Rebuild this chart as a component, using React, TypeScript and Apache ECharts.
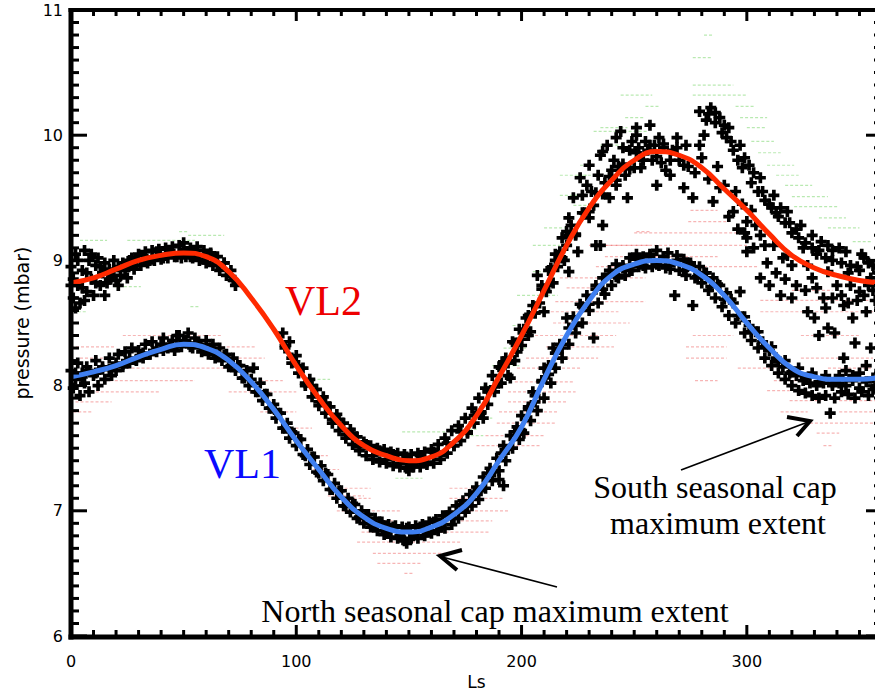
import React, { useEffect, useRef } from "react";
import * as echarts from "echarts";

// Fitted curves (Ls every 10 degrees)
const LS_CURVE = [0,10,20,30,40,50,60,70,80,90,100,110,120,130,140,150,160,170,180,190,200,210,220,230,240,250,260,270,280,290,300,310,320,330,340,350,360];
const VL2_FIT = [8.82,8.86,8.93,9.00,9.04,9.06,9.03,8.91,8.70,8.45,8.16,7.90,7.68,7.52,7.44,7.40,7.43,7.55,7.76,8.07,8.40,8.76,9.12,9.42,9.64,9.80,9.87,9.84,9.74,9.57,9.40,9.21,9.04,8.94,8.88,8.84,8.82];
const VL1_FIT = [8.07,8.11,8.16,8.23,8.29,8.33,8.30,8.20,8.03,7.81,7.56,7.33,7.11,6.95,6.86,6.83,6.87,6.97,7.14,7.40,7.67,8.05,8.40,8.68,8.88,8.97,9.00,8.97,8.88,8.72,8.50,8.30,8.14,8.07,8.05,8.05,8.07];

// Measured daily pressures [Ls, mbar] — Viking Lander 1
const VL1_DATA = [
[0,8.12],[1,7.98],[2,8.05],[3,8.18],[4,7.92],[5,8.10],[6,8.02],[7,8.15],[8,7.95],[10,8.08],[11,8.20],[12,8.00],[14,8.13],[15,8.05],[17,8.22],[18,8.08],[20,8.12],[21,8.25],[23,8.15],[24,8.27],[26,8.18],[27,8.30],[29,8.20],[30,8.28],[32,8.22],[33,8.33],[35,8.25],[36,8.35],[38,8.27],[40,8.33],[41,8.38],[43,8.30],[45,8.36],[46,8.28],[47,8.40],[48,8.40],[49,8.31],[51,8.36],[52,8.42],[54,8.30],[55,8.38],[57,8.33],[58,8.27],[60,8.36],[61,8.25],[63,8.33],[64,8.22],[66,8.30],[67,8.20],
[69,8.25],[70,8.15],[72,8.22],[73,8.12],[75,8.16],[76,8.06],[78,8.12],[79,8.00],[81,8.14],[82,7.95],[84,8.02],[85,7.88],[87,7.93],[88,7.82],[90,7.85],[91,7.74],[93,7.78],[94,7.66],[96,7.70],[97,7.58],[99,7.62],[100,7.52],
[102,7.57],[103,7.45],[105,7.49],[106,7.37],[108,7.43],[109,7.31],[111,7.36],[112,7.24],[114,7.29],[115,7.17],[117,7.22],[118,7.10],[120,7.16],[121,7.04],[123,7.10],[124,6.99],[126,7.05],[127,6.94],[129,7.00],[130,6.90],[132,6.97],[133,6.87],[135,6.94],[136,6.84],[138,6.91],[139,6.81],[141,6.89],[142,6.79],[144,6.88],[145,6.78],[147,6.87],[148,6.76],[149,6.74],[150,6.87],[151,6.78],[153,6.88],[154,6.78],[156,6.89],[157,6.80],[159,6.91],[160,6.82],[162,6.93],[163,6.84],[165,6.96],[166,6.86],[168,6.99],[169,6.89],[171,7.04],[172,6.94],[174,7.08],[175,6.99],[177,7.13],[178,7.04],[180,7.19],[181,7.09],[183,7.27],[184,7.18],[186,7.34],[187,7.24],[189,7.42],[190,7.25],[190,7.32],[192,7.52],[192,7.20],[193,7.40],[195,7.60],[196,7.50],[198,7.67],[199,7.57],
[200,7.76],[201,7.62],[203,7.83],[204,7.72],[205,7.95],[206,7.92],[207,7.80],[209,8.03],[210,7.90],[210,8.14],[212,8.16],[213,8.02],[214,8.30],[215,8.14],[217,8.33],[218,8.22],[220,8.54],[221,8.33],[223,8.55],[224,8.42],[226,8.65],[227,8.50],[229,8.72],[230,8.60],[232,8.38],[233,8.80],[234,8.66],[236,8.86],[237,8.73],[239,8.92],[240,8.80],[242,8.97],[243,8.86],[245,8.94],[246,8.88],[248,9.02],[249,8.92],[251,9.05],[252,8.95],[254,9.03],[255,8.94],[257,9.05],[258,8.95],[260,9.08],[261,8.96],[263,9.03],[264,8.94],
[265,9.06],[266,8.93],[268,8.72],[269,9.04],[270,8.92],[272,9.01],[273,8.88],[275,8.98],[276,8.64],[277,8.86],[279,8.95],[280,8.82],[282,8.90],[283,8.76],[285,8.86],[286,8.70],[288,8.80],[289,8.63],[291,8.74],[292,8.56],[294,8.66],[295,8.50],[297,8.75],[298,8.55],[299,8.42],[301,8.48],[302,8.36],[304,8.43],[305,8.30],[307,8.35],[308,8.22],[310,8.28],[311,8.16],[313,8.22],[314,8.10],[316,8.15],[317,8.05],[319,8.10],[320,8.00],[322,8.08],[323,7.96],[325,8.04],[326,7.94],[328,8.02],[329,7.92],[331,8.00],[332,7.90],[334,8.02],[335,7.92],[337,7.78],[338,8.00],[339,7.90],[341,8.08],[342,7.95],[344,8.12],[345,7.93],[347,8.04],[348,7.90],[350,8.10],[351,7.95],[353,8.16],[354,7.92],[356,8.06],[357,7.98],[359,8.12],[360,8.02]
];
const VL1_DATA_B = [
[2,8.10],[5,8.07],[8,8.12],[11,8.10],[14,8.15],[17,8.13],[20,8.18],[23,8.17],[26,8.22],[29,8.21],[32,8.26],[35,8.25],[38,8.30],[41,8.28],[44,8.33],[47,8.31],[50,8.35],[53,8.31],[56,8.34],[59,8.28],[62,8.30],[65,8.24],[68,8.24],[71,8.16],[74,8.16],[77,8.06],[80,8.05],[83,7.95],[86,7.93],[89,7.82],[92,7.78],[95,7.66],[98,7.63],
[101,7.57],[104,7.44],[107,7.43],[110,7.30],[113,7.30],[116,7.17],[119,7.16],[122,7.04],[125,7.06],[128,6.95],[131,6.97],[134,6.88],[137,6.91],[140,6.83],[143,6.87],[146,6.80],[149,6.86],[152,6.80],[155,6.87],[158,6.83],[161,6.91],[164,6.87],[167,6.96],[170,6.94],[173,7.05],[176,7.04],[179,7.15],[182,7.16],[185,7.30],[188,7.31],[191,7.46],[194,7.49],[197,7.63],[200,7.64],
[203,7.81],[206,7.87],[209,8.04],[212,8.09],[215,8.26],[218,8.30],[221,8.46],[224,8.48],[227,8.63],[230,8.65],[233,8.77],[236,8.77],[239,8.89],[242,8.87],[245,8.96],[248,8.92],[251,9.01],[254,8.96],[257,9.03],[260,8.97],[263,9.03],[266,8.96],[269,9.00],[272,8.92],[275,8.96],[278,8.87],[281,8.90],[284,8.79],[287,8.81],[290,8.69],[293,8.69],[296,8.56],[299,8.55],[302,8.43],[305,8.43],[308,8.31],[311,8.31],[314,8.19],[317,8.20],[320,8.11],[323,8.14],[326,8.06],[329,8.10],[332,8.03],[335,8.08],[338,8.02],[341,8.02],[344,8.00],[347,8.08],[350,7.98],[353,8.03],[356,7.97],[359,8.04]
];

// Viking Lander 2
const VL2_DATA = [
[0,8.95],[1,8.70],[2,9.05],[3,8.80],[4,8.66],[5,8.92],[6,9.08],[7,8.75],[8,9.00],[9,8.85],[10,8.72],[11,8.96],[12,9.02],[13,8.80],[14,8.90],[15,8.98],[16,8.82],[17,8.93],[18,8.87],[19,9.00],[20,8.84],[21,8.95],[22,8.88],[24,8.92],[25,8.86],
[27,9.02],[28,8.93],[30,9.05],[31,8.96],[33,9.07],[34,8.98],[36,9.08],[37,9.00],[39,9.09],[40,9.01],[42,9.10],[43,9.02],[45,9.11],[46,9.03],[48,9.12],[49,9.02],[50,9.14],[51,9.03],[53,9.10],[54,9.02],[56,9.11],[57,9.00],[59,9.08],[60,8.98],[62,9.06],[63,8.96],[65,9.03],[66,8.92],[68,8.98],[69,8.88],[71,8.92],[72,8.84],[73,8.80],
[94,8.42],[95,8.30],[97,8.35],[98,8.22],[100,8.24],[101,8.10],[103,8.14],[104,8.00],[106,8.05],[107,7.91],[109,7.97],[110,7.84],[112,7.91],[113,7.78],[115,7.83],[116,7.70],[118,7.77],[119,7.64],[121,7.70],[122,7.58],[124,7.65],[125,7.53],[127,7.59],[128,7.48],[130,7.55],[131,7.44],[133,7.52],[134,7.41],[136,7.50],[137,7.39],[139,7.49],[140,7.38],[142,7.47],[143,7.36],[145,7.46],[146,7.35],[148,7.45],[149,7.34],[150,7.32],[151,7.45],[152,7.35],[154,7.46],[155,7.35],[157,7.47],[158,7.37],[160,7.49],[161,7.38],[163,7.53],[164,7.41],[166,7.58],[167,7.46],[169,7.64],[170,7.52],[172,7.68],[173,7.56],[175,7.74],[176,7.62],[178,7.82],[179,7.70],[181,7.90],[182,7.78],[183,7.74],[184,7.98],[185,7.85],[187,8.08],[188,7.95],[190,8.15],[191,8.02],[192,8.19],[193,8.22],[194,8.08],[195,8.06],[196,8.35],[197,8.20],[198,8.27],[199,8.45],[200,8.32],
[201,8.45],[202,8.54],[203,8.40],[204,8.43],[205,8.64],[206,8.58],[207,8.88],[208,8.66],[209,8.80],[210,8.59],[211,8.75],[212,8.92],[213,8.94],[214,8.82],[215,9.05],[216,8.95],[217,9.07],[218,9.18],[219,9.00],[220,9.23],[220,9.12],[221,9.34],[221,8.91],[222,9.28],[223,9.50],[224,9.20],[225,9.07],[226,9.66],[227,9.52],[228,9.38],[229,9.60],[230,9.76],[230,9.34],[231,9.55],[232,9.44],[233,9.12],[234,9.68],[235,9.84],[235,9.12],[236,9.28],[236,9.87],[237,9.62],[238,9.92],[239,9.50],[240,9.72],[241,9.80],[242,9.98],[242,9.60],[243,9.75],[244,10.03],[245,9.90],[246,9.68],[247,9.50],[248,9.88],[249,9.95],[250,9.74],[251,10.06],[251,10.00],[252,9.90],[253,9.74],[254,9.80],[255,9.95],[256,9.88],[257,10.08],[258,9.80],[259,9.92],[260,9.60],[261,9.98],[262,9.78],[263,9.90],[264,9.72],[266,9.68],[267,9.88],[269,9.98],[270,9.80],[272,9.58],[273,9.92],[274,9.75],[276,9.50],[277,9.70],[279,10.19],[279,9.92],[280,9.82],[281,10.00],[282,10.12],[283,9.65],[284,10.22],[285,9.47],[286,10.10],[287,9.75],[288,10.14],[288,9.58],[290,10.08],[290,9.60],[292,10.06],[293,9.95],[294,9.39],[295,9.55],[297,9.92],[298,9.45],[299,9.82],[300,9.31],[300,9.18],[300,9.07],[301,9.76],[302,9.40],[303,9.70],[304,9.28],[306,9.66],[306,9.20],[306,8.86],[307,9.55],[308,9.12],[310,8.80],[310,9.45],[312,9.52],[312,9.12],[313,9.38],[315,8.72],[315,9.42],[316,9.02],[318,9.39],[318,9.04],[319,9.30],[320,8.96],[320,8.70],[322,9.25],[324,9.28],[325,9.10],[327,8.96],[327,8.59],[329,9.20],[329,8.86],[330,8.54],[331,9.05],[332,8.40],[333,9.15],[334,8.70],[336,9.12],[336,8.91],[336,8.46],[338,9.00],[339,8.42],[340,8.80],[341,9.10],[343,8.64],[343,8.22],[344,9.07],[345,8.90],[346,8.80],[347,8.54],[348,8.34],[349,8.95],[350,8.75],[351,9.05],[352,9.02],[353,8.59],[354,8.80],[355,8.86],[355,8.30],[356,8.96],[357,8.68],[358,8.90],[359,8.62],[360,8.85]
];
const VL2_DATA_B = [
[0,8.80],[1,8.85],[2,8.62],[3,9.00],[5,8.78],[6,8.68],[7,8.90],[9,9.05],[11,8.82],[13,8.95],[15,8.72],[17,8.85],[19,8.92],[21,8.80],[23,8.98],[25,8.95],
[26,9.00],[29,8.96],[32,9.04],[35,9.00],[38,9.07],[41,9.02],[44,9.08],[47,9.03],[50,9.09],[53,9.03],[56,9.08],[59,9.01],[62,9.05],[65,8.96],[68,8.98],[71,8.87],
[95,8.32],[98,8.18],[101,8.16],[104,8.02],[107,8.00],[110,7.87],[113,7.86],[116,7.73],[119,7.73],[122,7.61],[125,7.62],[128,7.51],[131,7.53],[134,7.44],[137,7.48],[140,7.41],[143,7.45],[146,7.38],[149,7.43],[152,7.37],[155,7.44],[158,7.39],[161,7.47],[164,7.44],[167,7.54],[170,7.52],[173,7.63],[176,7.63],[179,7.76],[182,7.79],[185,7.95],[188,7.99],[191,8.14],[194,8.18],[197,8.34],[200,8.37],
[203,8.56],[206,8.58],[209,8.77],[212,8.80],[215,9.00],[218,9.02],[221,9.20],[224,9.21],[227,9.38],[230,9.39],[233,9.54],[236,9.53],[239,9.67],[242,9.64],[245,9.77],[248,9.73],[251,9.86],[254,9.80],[257,9.92],[260,9.83],[263,9.93],[266,9.80],[269,9.90],[272,9.76],
[283,10.17],[286,10.18],[289,10.02],[291,9.98],[294,9.88],[296,9.80],[298,9.74],[302,9.62],[305,9.55],[308,9.48],[311,9.42],[314,9.35],[317,9.30],[320,9.22],[323,9.18],[326,9.14],[329,9.10],[332,9.08],[335,9.02],[338,9.08],[342,8.98],[346,8.96],[350,8.92],[354,8.98],[358,8.94],
[292,9.35],[296,9.25],[299,9.22],[303,9.10],[309,8.98],[313,8.90],[317,8.85],[322,8.80],[326,8.76],[331,8.78],[335,8.62],[338,8.70],[342,8.72],[345,8.66],[349,8.68],[352,8.72],[356,8.76],[359,8.70]
];

// Horizontal uncertainty bars [Ls centre, mbar, half-width in Ls]
const ERR_VL1 = [
[45,8.40,22],[10,8.31,10],[70,8.31,12],[12,8.22,8],[78,8.22,8],[45,8.14,27],[35,8.04,20],[25,7.95,14],[85,7.95,15],[10,7.87,8],[5,7.79,4],[92,7.79,8],
[89,8.04,5],[100,7.66,7],[108,7.44,6],[112,7.33,7],[122,7.12,8],[125,7.18,8],[175,7.18,7],[127,7.10,6],[180,7.10,12],[132,7.00,14],[180,7.00,14],[135,6.92,9],[180,6.92,7],[137,6.83,8],[175,6.83,11],[150,6.75,23],[150,6.66,16],[146,6.58,10],[150,6.50,2],
[254,9.23,3],[245,9.12,12],[245,8.95,12],[236,8.86,19],[229,8.78,9],[235,8.67,20],[228,8.59,15],[231,8.50,17],[224,8.40,18],[226,8.31,15],[218,8.22,16],[212,8.14,14],[210,8.03,13],[209,7.95,15],[207,7.87,13],[203,7.79,13],[202,7.70,13],[197,7.60,13],[194,7.52,14],
[281,9.40,6],[283,9.31,9],[275,9.22,25],[265,9.12,35],[262,9.03,25],[293,8.95,12],[329,8.76,9],[331,8.68,25],[331,8.59,25],[285,8.40,9],[337,8.40,13],[282,8.31,9],[282,8.22,9],[340,8.22,16],[304,8.14,8],[346,8.14,10],[282,8.04,5],[320,8.04,8],[314,7.96,5],[326,7.88,7],[350,7.88,9],[321,7.79,6],[349,7.79,8],[343,7.70,15],[336,7.62,5],[336,7.52,2]
];
const ERR_VL2 = [
[10,9.16,6],[40,9.16,15],[50,9.23,2],[15,8.99,8],[25,8.79,6],[55,8.63,2],[5,8.59,2],[60,9.20,8],
[110,8.05,5],[157,7.63,10],[150,7.26,6],[175,7.65,5],
[285,10.40,9],[251,10.32,7],[288,10.32,12],[258,10.23,3],[299,10.23,4],[250,10.14,4],[303,10.14,6],[241,10.06,6],[304,10.06,4],[307,9.95,5],[310,9.86,5],[315,9.76,6],[229,9.76,3],[223,9.68,6],[318,9.68,5],[323,9.60,6],[328,9.51,8],[331,9.43,10],[338,9.34,6],[343,9.26,7],[351,9.15,4],[280,10.62,4],[283,10.80,2],
[244,10.03,12],[240,9.92,5],[230,9.68,5],[222,9.52,5],[227,9.44,4],[215,9.26,5],[211,9.12,6],[209,8.91,4],[207,8.72,9],[200,8.48,4],[197,8.30,5],[193,8.16,6],[187,8.00,4],[182,7.74,5],[178,7.60,5]
];

// Axis ticks and labels
const X_TICKS = [0,10,20,30,40,50,60,70,80,90,100,110,120,130,140,150,160,170,180,190,200,210,220,230,240,250,260,270,280,290,300,310,320,330,340,350,360];
const Y_TICKS = [6,6.1,6.2,6.3,6.4,6.5,6.6,6.7,6.8,6.9,7,7.1,7.2,7.3,7.4,7.5,7.6,7.7,7.8,7.9,8,8.1,8.2,8.3,8.4,8.5,8.6,8.7,8.8,8.9,9,9.1,9.2,9.3,9.4,9.5,9.6,9.7,9.8,9.9,10,10.1,10.2,10.3,10.4,10.5,10.6,10.7,10.8,10.9,11];
const X_MAJOR_LABELS = ["0", "100", "200", "300"];
const Y_LABELS = ["6", "7", "8", "9", "10", "11"];

const PLUS = "path://M4,0H8V4H12V8H8V12H4V8H0V4H4Z";
const SANS = "DejaVu Sans";
const SERIF = "Liberation Serif";

function errSeries(data: number[][], color: string) {
  return {
    type: "custom", clip: true, z: 1, silent: true, data,
    encode: { x: 0, y: 1 },
    renderItem: (_p: any, api: any) => {
      const ls = api.value(0), p = api.value(1), hw = api.value(2);
      const a = api.coord([ls - hw, p]);
      const b = api.coord([ls + hw, p]);
      return {
        type: "line",
        shape: { x1: a[0], y1: a[1], x2: b[0], y2: b[1] },
        style: { stroke: color, lineWidth: 1.2, lineDash: [3, 2] },
      };
    },
  };
}

function plusSeries(data: number[][]) {
  return {
    type: "scatter", data, symbol: PLUS, symbolSize: 11, z: 2, silent: true,
    itemStyle: { color: "#000", opacity: 1 },
  };
}

const ANNOTATIONS: any[] = [
  { type: "text", x: 285, y: 301, z: 10, style: { text: "VL2", font: `42px "${SERIF}"`, fill: "#ee0000", align: "left", verticalAlign: "middle" } },
  { type: "text", x: 204, y: 464, z: 10, style: { text: "VL1", font: `42px "${SERIF}"`, fill: "#0a0aff", align: "left", verticalAlign: "middle" } },
  { type: "text", x: 715, y: 487, z: 10, style: { text: "South seasonal cap", font: `32px "${SERIF}"`, fill: "#000", align: "center", verticalAlign: "middle" } },
  { type: "text", x: 718, y: 523, z: 10, style: { text: "maximum extent", font: `32px "${SERIF}"`, fill: "#000", align: "center", verticalAlign: "middle" } },
  { type: "text", x: 495, y: 611, z: 10, style: { text: "North seasonal cap maximum extent", font: `32px "${SERIF}"`, fill: "#000", align: "center", verticalAlign: "middle" } },
  { type: "line", z: 10, shape: { x1: 681, y1: 470, x2: 808, y2: 422 }, style: { stroke: "#000", lineWidth: 1.7 } },
  { type: "polyline", z: 10, shape: { points: [[787, 417], [810, 421], [797, 436]] }, style: { stroke: "#000", lineWidth: 4, fill: null, lineJoin: "miter" } },
  { type: "line", z: 10, shape: { x1: 557, y1: 587, x2: 442, y2: 557 }, style: { stroke: "#000", lineWidth: 1.7 } },
  { type: "polyline", z: 10, shape: { points: [[462, 550], [440, 556], [457, 570]] }, style: { stroke: "#000", lineWidth: 4, fill: null, lineJoin: "miter" } },
];

export default function App() {
  const ref = useRef<HTMLDivElement>(null);
  useEffect(() => {
    const chart = echarts.init(ref.current!, null, { renderer: "svg" });
    const black = "#000";
    const option: any = {
      animation: false,
      backgroundColor: "#fff",
      grid: { left: 71, right: 18, top: 10, bottom: 55, containLabel: false, outerBoundsMode: "none" },
      xAxis: {
        type: "value", min: 0, max: 360, interval: 100, position: "bottom",
        splitLine: { show: false }, axisTick: { show: false }, axisLine: { show: false, onZero: false },
        axisLabel: {
          show: true, margin: 17, fontSize: 16, fontFamily: SANS, color: black, showMaxLabel: false,
          formatter: (v: number) => X_MAJOR_LABELS[Math.round(v / 100)] ?? "",
        },
        name: "Ls", nameLocation: "middle", nameGap: 37,
        nameTextStyle: { fontSize: 17, fontFamily: SANS, color: black },
      },
      yAxis: {
        type: "value", min: 6, max: 11, interval: 1, position: "left",
        splitLine: { show: false }, axisTick: { show: false }, axisLine: { show: false, onZero: false },
        axisLabel: {
          show: true, margin: 8, fontSize: 16, fontFamily: SANS, color: black,
          showMinLabel: true, showMaxLabel: true,
          formatter: (v: number) => Y_LABELS[Math.round(v - 6)] ?? "",
        },
        name: "pressure (mbar)", nameLocation: "middle", nameGap: 40,
        nameTextStyle: { fontSize: 19, fontFamily: SANS, color: black },
      },
      series: [
        errSeries(ERR_VL1, "rgba(235,70,70,0.4)"),
        errSeries(ERR_VL2, "rgba(80,200,60,0.4)"),
        plusSeries(VL1_DATA),
        plusSeries(VL1_DATA_B),
        plusSeries(VL2_DATA),
        plusSeries(VL2_DATA_B),
        {
          type: "line", data: LS_CURVE.map((l, i) => [l, VL2_FIT[i]]), smooth: 0.5,
          symbol: "none", z: 3, lineStyle: { color: "#ff2a00", width: 5 }, silent: true,
        },
        {
          type: "line", data: LS_CURVE.map((l, i) => [l, VL1_FIT[i]]), smooth: 0.5,
          symbol: "none", z: 3, lineStyle: { color: "#3f7ff0", width: 5 }, silent: true,
        },
      ],
    };
    chart.setOption(option);

    // Frame and inward ticks as filled bars, placed through the axes' own scales
    const px = (x: number, y: number): number[] => chart.convertToPixel({ gridIndex: 0 }, [x, y]) as any;
    const bl = px(0, 6);
    const tr = px(360, 11);
    const frame: any[] = [];
    const bar = (x: number, y: number, w: number, h: number) =>
      frame.push({ type: "rect", z: 8, silent: true, shape: { x, y, width: w, height: h }, style: { fill: black, stroke: null } });
    X_TICKS.forEach((v) => {
      const len = v % 100 === 0 ? 11 : 6;
      const b = px(v, 6);
      const t = px(v, 11);
      bar(b[0] - 1.5, b[1] - len, 3, len);
      bar(t[0] - 1.5, t[1], 3, len);
    });
    Y_TICKS.forEach((v) => {
      const major = Math.abs(v - Math.round(v)) < 1e-6;
      const len = major ? 16 : 8;
      const l = px(0, v);
      const r = px(360, v);
      bar(l[0], l[1] - 1.5, len, 3);
      bar(r[0] - len, r[1] - 1.5, len, 3);
    });
    bar(bl[0] - 2.5, bl[1] - 1.5, tr[0] - bl[0] + 5, 5);   // bottom
    bar(bl[0] - 2.5, tr[1] - 2, tr[0] - bl[0] + 5, 4);     // top
    bar(bl[0] - 2.5, tr[1] - 2, 5, bl[1] - tr[1] + 5.5);   // left
    bar(tr[0] - 2, tr[1] - 2, 4, bl[1] - tr[1] + 5.5);     // right

    chart.setOption({ graphic: [...ANNOTATIONS, ...frame] });
    return () => chart.dispose();
  }, []);
  return (
    <div style={{ position: "fixed", left: 0, top: 0, width: 875, height: 691, overflow: "hidden", background: "#fff" }}>
      <div ref={ref} style={{ width: 900, height: 691 }} />
    </div>
  );
}
